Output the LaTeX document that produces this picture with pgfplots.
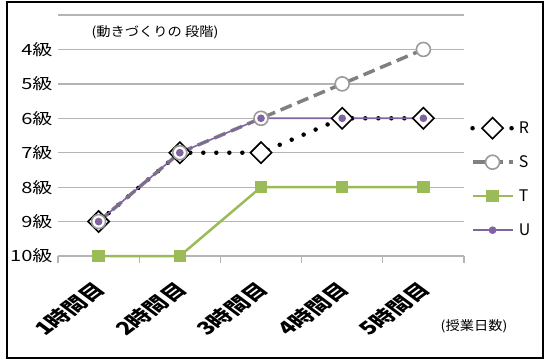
\documentclass[border=0pt]{standalone}
\usepackage{pgfplots}
\pgfplotsset{compat=1.18}
\usepackage{fontspec}
\setmainfont{Noto Sans CJK JP}
\definecolor{gridgray}{HTML}{B4B4B4}
\definecolor{sgray}{HTML}{808080}
\definecolor{sring}{HTML}{9A9A9A}
\definecolor{tgreen}{HTML}{9BBB59}
\definecolor{upurple}{HTML}{8064A2}
\begin{document}
\begin{tikzpicture}[x=1bp,y=1bp]
\useasboundingbox (0,0) rectangle (547,361);
\draw[line width=2bp] (7,3) rectangle (543,359);
\node[font=\fontsize{13}{13}\selectfont, xscale=1.1] at (155,329) {(動きづくりの 段階)};
\node[font=\fontsize{13}{13}\selectfont, xscale=1.1] at (474,35) {(授業日数)};
\begin{axis}[
  at={(58bp,105bp)}, anchor=south west,
  scale only axis, width=406bp, height=241bp,
  xmin=0.5, xmax=5.5, ymin=3, ymax=10, y dir=reverse,
  xtick={1,...,5}, xticklabels={1時間目,2時間目,3時間目,4時間目,5時間目},
  minor xtick={0.5,1.5,...,5.5},
  ytick={3,...,10}, yticklabels={,4級,5級,6級,7級,8級,9級,10級},
  ymajorgrids, major grid style={gridgray, line width=1.3bp},
  axis x line*=bottom, axis y line*=left,
  x axis line style={gridgray, line width=1.3bp, -},
  y axis line style={draw=none},
  major tick length=0pt, minor tick length=7bp, tick align=outside,
  minor tick style={gridgray, line width=1.3bp},
  yticklabel style={font=\fontsize{15.5}{15.5}\selectfont, xscale=1.3, anchor=east, inner xsep=4bp},
  xticklabel style={font=\fontsize{18}{18}\selectfont\bfseries, xshift=2bp, cm={0.9546,0.7071,-0.9546,0.7071,(0,0)}, anchor=east, inner sep=0pt},
  xticklabel shift=30bp,
  legend style={draw=none, fill=none, inner sep=0pt, at={(1.015,0.6017)}, anchor=north west,
    font=\fontsize{16}{16}\selectfont, row sep=0bp,
    nodes={inner xsep=4bp, inner ysep=0pt, minimum height=34bp}},
  legend cell align=left,
  legend image code/.code={\draw[mark repeat=2,mark phase=2,#1] plot coordinates {(0bp,0bp)(20bp,0bp)(40bp,0bp)};},
  clip=false,
]
\addplot[black, line width=4.5bp, line cap=round, dash pattern=on 0bp off 13bp,
  mark=square*, mark size=7.5bp, mark options={rotate=45, fill=white, draw=black, line width=1.6bp, solid}]
  coordinates {(1,9) (2,7) (3,7) (4,6) (5,6)};
\addlegendentry{R}
\addplot[sgray, line width=3.5bp, dash pattern=on 12bp off 6bp,
  mark=*, mark size=7bp, mark options={fill=white, draw=sring, line width=1.6bp, solid}]
  coordinates {(1,9) (2,7) (3,6) (4,5) (5,4)};
\addlegendentry{S}
\addplot[tgreen, line width=2.5bp,
  mark=square*, mark size=5bp, mark options={fill=tgreen, draw=tgreen, rounded corners=1.5bp}]
  coordinates {(1,10) (2,10) (3,8) (4,8) (5,8)};
\addlegendentry{T}
\addplot[upurple, line width=1.6bp,
  mark=*, mark size=3bp, mark options={fill=upurple, draw=upurple}]
  coordinates {(1,9) (2,7) (3,6) (4,6) (5,6)};
\addlegendentry{U}
\end{axis}
\end{tikzpicture}
\end{document}
